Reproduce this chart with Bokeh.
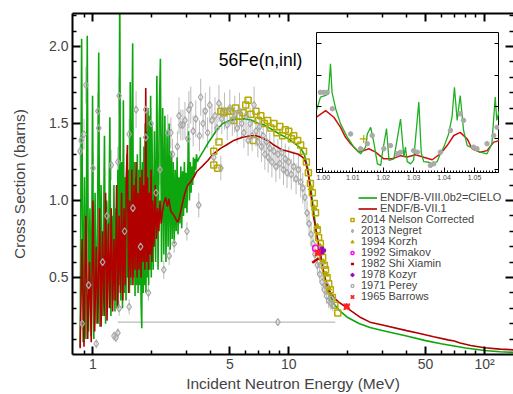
from bokeh.plotting import figure
from bokeh.models import (Range1d, LogAxis, LinearAxis, FixedTicker, Label, Legend, LegendItem,
                          CustomJSTickFormatter, SingleIntervalTicker, NumeralTickFormatter)
from bokeh.embed import file_html
from bokeh.resources import INLINE

FONT = "Liberation Sans"
GREEN = "#0EA60E"
RED = "#B00000"
GREY = "#A8A8A8"
OLIVE = "#B5AA00"

# ---------------- main panel data ----------------
x_major = [1, 5, 10, 50, 100]
x_minor = [0.9, 2, 3, 4, 6, 7, 8, 9, 20, 30, 40, 60, 70, 80, 90]
x_labels = {1: "1", 5: "5", 10: "10", 50: "50", 100: "10\u00b2"}
y_major = [0.5, 1.0, 1.5, 2.0]
y_minor = [0.1, 0.2, 0.3, 0.4, 0.6, 0.7, 0.8, 0.9, 1.1, 1.2, 1.3, 1.4, 1.6, 1.7, 1.8, 1.9, 2.1, 2.2]

# ENDF/B-VIII.0b2 = CIELO, resonance region
cielo_res_E = [0.860, 0.875, 0.890, 0.905, 0.920, 0.935, 0.950, 0.965, 0.980, 0.995,
               1.010, 1.025, 1.040, 1.055, 1.070, 1.085, 1.100, 1.115, 1.130, 1.145,
               1.160, 1.175, 1.190, 1.205, 1.220, 1.235, 1.250, 1.265, 1.280, 1.295,
               1.310, 1.325, 1.340, 1.355, 1.370, 1.385, 1.400, 1.415, 1.430, 1.445,
               1.460, 1.475, 1.490, 1.505, 1.520, 1.535, 1.550, 1.565, 1.580, 1.595,
               1.610, 1.625, 1.640, 1.655, 1.670, 1.685, 1.700, 1.715, 1.730, 1.745,
               1.760, 1.775, 1.790, 1.805, 1.820, 1.835, 1.850, 1.865, 1.880, 1.895,
               1.910, 1.925, 1.940, 1.955, 1.970, 1.985, 2.000,
               2.03, 2.06, 2.09, 2.12, 2.15, 2.18, 2.21, 2.24, 2.27, 2.30,
               2.33, 2.36, 2.39, 2.42, 2.45, 2.48, 2.51, 2.54, 2.57, 2.60,
               2.63, 2.66, 2.69, 2.72, 2.75, 2.78, 2.81, 2.84, 2.87, 2.90,
               2.93, 2.96, 2.99, 3.02, 3.05, 3.08, 3.11, 3.14, 3.17, 3.20,
               3.23, 3.26, 3.29, 3.32, 3.35, 3.38, 3.41]
cielo_res_xs = [0.05, 2.05, 0.08, 1.15, 0.10, 2.07, 0.15, 0.95, 0.12, 1.68,
                0.10, 1.05, 0.20, 0.85, 1.96, 0.18, 1.10, 0.25, 0.70, 1.42,
                0.20, 1.00, 0.30, 0.85, 1.54, 0.25, 0.90, 0.35, 1.10, 0.28,
                0.95, 0.30, 1.20, 0.45, 2.45, 0.35, 1.25, 0.30, 1.65, 0.40,
                1.15, 0.35, 1.30, 0.50, 1.20, 0.40, 1.77, 0.45, 1.35, 2.02,
                0.50, 1.25, 0.38, 1.15, 0.45, 1.30, 0.40, 1.20, 0.45, 1.41,
                0.35, 0.17, 1.25, 0.40, 1.35, 0.45, 1.50, 0.40, 1.45, 0.50,
                1.60, 0.45, 1.55, 0.55, 1.68, 0.50, 1.50,
                0.55, 1.45, 0.60, 1.81, 0.55, 1.55, 1.92, 0.60, 1.60, 0.65,
                1.55, 0.60, 1.45, 0.70, 1.50, 0.68, 1.32, 0.75, 1.25, 0.72,
                1.20, 0.80, 1.28, 0.78, 1.15, 0.85, 1.22, 0.82, 1.19, 0.90,
                1.25, 0.95, 1.18, 0.92, 1.20, 1.45, 1.00, 1.25, 1.05, 1.22,
                1.10, 1.28, 1.15, 1.27, 1.20, 1.30, 1.25]
# CIELO, smooth region
cielo_hi_E = [3.5, 3.7, 3.9, 4.1, 4.3, 4.6, 5.0, 5.5, 6.0, 6.5, 7.0, 7.5, 8.0, 9.0, 10.0,
              11.0, 11.5, 12.0, 12.5, 13.0, 13.5, 14.0, 14.5, 15.0, 16.0, 17.0, 18.0, 20.0,
              23.0, 26.0, 30.0, 40.0, 50.0, 60.0, 70.0, 80.0, 100.0, 120.0, 150.0]
cielo_hi_xs = [1.28, 1.33, 1.38, 1.42, 1.46, 1.50, 1.52, 1.53, 1.53, 1.52, 1.50, 1.49, 1.47,
               1.43, 1.40, 1.36, 1.34, 1.30, 1.21, 1.07, 0.90, 0.75, 0.63, 0.53, 0.41, 0.33,
               0.29, 0.24, 0.20, 0.175, 0.156, 0.12, 0.09, 0.07, 0.055, 0.042, 0.026, 0.018, 0.012]

# ENDF/B-VII.1
endf7_res_E = [0.86, 0.88, 0.90, 0.92, 0.94, 0.96, 0.98, 1.00, 1.02, 1.04,
               1.06, 1.08, 1.10, 1.12, 1.14, 1.16, 1.18, 1.20, 1.22, 1.24,
               1.26, 1.28, 1.30, 1.32, 1.34, 1.36, 1.38, 1.40, 1.42, 1.44,
               1.46, 1.48, 1.50, 1.52, 1.54, 1.56, 1.58, 1.60, 1.62, 1.64,
               1.66, 1.68, 1.70, 1.72, 1.74, 1.76, 1.78, 1.80, 1.82, 1.84,
               1.86, 1.88, 1.90, 1.92, 1.94, 1.96, 1.98, 2.00, 2.02, 2.05,
               2.08, 2.11, 2.14, 2.17, 2.20, 2.23, 2.26, 2.30, 2.35, 2.40, 2.44]
endf7_res_xs = [0.04, 0.75, 0.05, 0.90, 0.10, 0.60, 0.08, 1.00, 0.15, 0.70,
                0.20, 0.95, 0.18, 0.80, 0.25, 1.05, 0.22, 0.85, 0.30, 0.95,
                0.28, 0.75, 0.35, 1.10, 0.30, 0.90, 0.40, 1.05, 0.35, 0.95,
                0.45, 1.15, 1.36, 0.40, 1.00, 0.50, 1.20, 0.45, 1.10, 0.55,
                1.25, 0.50, 1.05, 0.55, 1.15, 0.50, 1.20, 0.60, 1.10, 0.55,
                1.73, 0.60, 1.15, 0.55, 1.05, 0.65, 1.20, 0.60, 1.00, 0.70,
                1.10, 0.75, 0.95, 0.80, 1.00, 0.85, 0.92, 0.98, 1.02, 0.96, 1.01]
endf7_hi_E = [2.50, 2.60, 2.70, 2.75, 2.85, 2.95, 3.05, 3.15, 3.27, 3.40,
              3.60, 3.86, 4.10, 4.50, 4.80, 5.24, 5.80, 6.40, 6.80, 7.20,
              7.80, 8.40, 9.20, 9.90, 10.5, 11.2, 11.8, 12.2, 12.6, 13.0,
              13.4, 14.0, 14.5, 15.0, 15.5, 16.0, 17.0, 18.0, 19.5, 19.8,
              20.0, 21.0, 23.3, 26.0, 30.5, 40.0, 45.5, 55.0, 65.0, 70.0,
              75.0, 85.0, 100.0, 120.0, 150.0]
endf7_hi_xs = [0.93, 0.90, 0.86, 0.88, 0.97, 1.05, 1.10, 1.12, 1.15, 1.19,
               1.22, 1.26, 1.30, 1.34, 1.36, 1.39, 1.41, 1.42, 1.42, 1.41,
               1.39, 1.36, 1.33, 1.32, 1.31, 1.30, 1.28, 1.25, 1.17, 1.03,
               0.89, 0.76, 0.66, 0.55, 0.47, 0.42, 0.37, 0.34, 0.31, 0.33,
               0.30, 0.28, 0.24, 0.21, 0.19, 0.155, 0.14, 0.115, 0.095, 0.088,
               0.075, 0.058, 0.044, 0.035, 0.028]

# 2013 Negret
negret_E = [0.86, 0.87, 0.88, 0.90, 0.92, 0.95, 1.00, 1.04, 1.06, 1.07,
            1.12, 1.18, 1.24, 1.28, 1.31, 1.34, 1.34, 1.36, 1.36, 1.45,
            1.53, 1.53, 1.60, 1.66, 1.75, 1.86, 1.86, 1.92, 1.98, 2.10,
            2.20, 2.30, 2.41, 2.45, 2.50, 2.55, 2.60, 2.70, 2.75, 2.81,
            2.88, 2.95, 3.02, 3.05, 3.09, 3.16, 3.25, 3.35, 3.47, 3.50,
            3.55, 3.65, 3.75, 3.85, 3.95, 4.05, 4.14, 4.20, 4.30, 4.40,
            4.50, 4.55, 4.70, 4.85, 5.00, 5.15, 5.30, 5.45, 5.60, 5.75,
            5.90, 6.05, 6.20, 6.35, 6.50, 6.65, 6.80, 6.95, 7.10, 7.25,
            7.40, 7.55, 7.70, 7.85, 8.00, 8.20, 8.40, 8.60, 8.80, 9.00,
            9.20, 9.40, 9.60, 9.80, 10.0, 10.3, 10.6, 10.9, 11.2, 11.5,
            11.8, 12.1, 12.4, 12.7, 13.0, 13.3, 13.6, 14.0, 14.4, 14.8,
            15.2, 15.6, 16.0, 16.4, 16.8]
negret_xs = [1.32, 1.39, 0.20, 1.43, 1.75, 0.45, 1.21, 0.07, 1.58, 1.47,
             0.60, 0.90, 1.23, 0.12, 0.11, 1.25, 0.14, 1.68, 0.30, 0.80,
             1.43, 0.31, 0.95, 1.59, 0.70, 1.59, 1.41, 0.40, 1.50, 1.05,
             1.20, 0.55, 1.44, 0.64, 1.44, 1.30, 0.72, 1.35, 1.55, 1.49,
             1.49, 1.52, 0.80, 1.40, 1.59, 1.62, 1.45, 1.53, 0.97, 1.42,
             1.67, 1.50, 1.58, 1.44, 1.62, 1.52, 1.28, 1.55, 1.47, 1.63,
             1.21, 1.53, 1.58, 1.49, 1.60, 1.52, 1.56, 1.47, 1.58, 1.50,
             1.44, 1.55, 1.39, 1.50, 1.42, 1.62, 1.45, 1.38, 1.48, 1.35,
             1.42, 1.30, 1.38, 1.28, 1.34, 1.25, 1.32, 1.22, 1.30, 1.24,
             1.31, 1.20, 1.27, 1.18, 1.25, 1.17, 1.22, 1.14, 1.20, 1.12,
             1.08, 1.02, 0.92, 0.85, 0.78, 0.72, 0.65, 0.58, 0.52, 0.47,
             0.42, 0.38, 0.35, 0.33, 0.32]
negret_err = [0.10, 0.10, 0.04, 0.10, 0.12, 0.05, 0.10, 0.03, 0.12, 0.10,
              0.06, 0.08, 0.10, 0.03, 0.03, 0.10, 0.03, 0.12, 0.05, 0.08,
              0.10, 0.05, 0.08, 0.12, 0.06, 0.12, 0.10, 0.05, 0.10, 0.08,
              0.10, 0.06, 0.12, 0.06, 0.10, 0.10, 0.06, 0.10, 0.12, 0.10,
              0.10, 0.12, 0.06, 0.10, 0.12, 0.12, 0.10, 0.12, 0.08, 0.10,
              0.12, 0.10, 0.12, 0.10, 0.12, 0.10, 0.08, 0.12, 0.10, 0.12,
              0.08, 0.10, 0.12, 0.10, 0.12, 0.10, 0.12, 0.10, 0.12, 0.10,
              0.10, 0.12, 0.10, 0.10, 0.10, 0.12, 0.10, 0.10, 0.10, 0.10,
              0.10, 0.10, 0.10, 0.10, 0.10, 0.10, 0.10, 0.10, 0.10, 0.10,
              0.10, 0.10, 0.10, 0.10, 0.10, 0.10, 0.10, 0.10, 0.10, 0.10,
              0.10, 0.08, 0.08, 0.08, 0.08, 0.06, 0.06, 0.06, 0.05, 0.05,
              0.05, 0.05, 0.05, 0.04, 0.04]
# one Negret point with a very wide energy bin
negret_wide_E = [8.8]
negret_wide_xs = [0.21]
negret_wide_lo = [1.34]
negret_wide_hi = [17.3]

# 2014 Nelson corrected
nelson_E = [4.14, 4.14, 4.34, 4.40, 4.50, 4.66, 4.88, 5.06, 5.24, 5.35,
            5.60, 5.85, 6.03, 6.20, 6.40, 6.60, 6.80, 7.00, 7.20, 7.50,
            7.80, 8.10, 8.40, 8.70, 9.00, 9.30, 9.60, 10.0, 10.3, 10.6,
            11.1, 11.5, 11.9, 12.3, 12.6, 12.9, 13.2, 13.5, 13.7, 14.0,
            14.2, 14.5, 14.7, 14.9, 15.2, 15.4, 15.7, 16.0, 16.3, 16.7,
            17.2, 17.8]
nelson_xs = [1.32, 1.23, 1.21, 1.38, 1.58, 1.57, 1.58, 1.58, 1.52, 1.60,
             1.55, 1.57, 1.62, 1.65, 1.56, 1.39, 1.58, 1.52, 1.55, 1.50,
             1.52, 1.47, 1.50, 1.44, 1.48, 1.42, 1.46, 1.45, 1.40, 1.42,
             1.39, 1.36, 1.32, 1.25, 1.18, 1.11, 1.05, 0.98, 0.92, 0.81,
             0.76, 0.72, 0.67, 0.63, 0.58, 0.55, 0.50, 0.46, 0.42, 0.37,
             0.32, 0.27]
korzh_E = [13.0, 13.5, 14.0, 14.5, 15.0, 15.5, 16.0]
korzh_xs = [1.08, 0.95, 0.83, 0.70, 0.60, 0.52, 0.43]
simakov_E = [13.7]
simakov_xs = [0.69]
shi_E = [13.7]
shi_xs = [0.61]
kozyr_E = [14.8]
kozyr_xs = [0.675]
perey_E = [14.6, 15.5, 16.5]
perey_xs = [0.58, 0.45, 0.36]
barrows_E = [14.1, 19.8]
barrows_xs = [0.66, 0.31]

# ---------------- inset data ----------------
inset_cielo_E = [0.9981, 0.9994, 1.0011, 1.0020, 1.0027, 1.0032, 1.0044, 1.0060, 1.0082, 1.0104,
                 1.0126, 1.0142, 1.0148, 1.0159, 1.0170, 1.0181, 1.0192, 1.0197, 1.0211, 1.0219,
                 1.0235, 1.0257, 1.0268, 1.0273, 1.0279, 1.0290, 1.0300, 1.0317, 1.0325, 1.0333,
                 1.0350, 1.0361, 1.0377, 1.0388, 1.0399, 1.0415, 1.0426, 1.0434, 1.0443, 1.0453,
                 1.0464, 1.0476, 1.0487, 1.0498, 1.0519, 1.0541, 1.0557, 1.0568, 1.0573, 1.0582]
inset_cielo_xs = [0.287, 0.330, 0.335, 0.340, 0.436, 0.345, 0.293, 0.245, 0.203, 0.171,
                  0.150, 0.171, 0.213, 0.234, 0.182, 0.118, 0.113, 0.150, 0.230, 0.129,
                  0.134, 0.260, 0.139, 0.171, 0.125, 0.118, 0.130, 0.314, 0.153, 0.125,
                  0.123, 0.118, 0.125, 0.150, 0.171, 0.213, 0.266, 0.361, 0.256, 0.335,
                  0.224, 0.176, 0.171, 0.166, 0.155, 0.150, 0.182, 0.330, 0.256, 0.290]
inset_endf7_E = [0.9981, 1.0011, 1.0038, 1.0060, 1.0076, 1.0093, 1.0120, 1.0136, 1.0153, 1.0175,
                 1.0202, 1.0230, 1.0257, 1.0279, 1.0306, 1.0333, 1.0361, 1.0388, 1.0410, 1.0432,
                 1.0453, 1.0476, 1.0492, 1.0519, 1.0541, 1.0563, 1.0582]
inset_endf7_xs = [0.266, 0.287, 0.266, 0.234, 0.203, 0.182, 0.155, 0.160, 0.166, 0.155,
                  0.134, 0.134, 0.144, 0.140, 0.147, 0.139, 0.131, 0.150, 0.176, 0.208,
                  0.218, 0.197, 0.166, 0.155, 0.160, 0.187, 0.192]
inset_data_E = [0.9994, 1.0005, 1.0016, 1.0033, 1.0093, 1.0126, 1.0148, 1.0164, 1.0202, 1.0224,
                1.0246, 1.0257, 1.0300, 1.0312, 1.0355, 1.0366, 1.0388, 1.0421, 1.0453, 1.0464,
                1.0497, 1.0508, 1.0541, 1.0563, 1.0574]
inset_data_xs = [0.345, 0.345, 0.345, 0.293, 0.213, 0.166, 0.182, 0.208, 0.166, 0.176,
                 0.150, 0.155, 0.160, 0.155, 0.113, 0.118, 0.155, 0.224, 0.277, 0.256,
                 0.171, 0.166, 0.182, 0.208, 0.234]
inset_plus_E = [1.0136]
inset_plus_xs = [0.197]

# ---------------- main figure ----------------
p = figure(width=513, height=394, x_axis_type="log",
           x_range=Range1d(0.786, 140.6), y_range=Range1d(0, 2.214),
           output_backend="svg", toolbar_location=None,
           min_border_left=72, min_border_right=0, min_border_top=13, min_border_bottom=39,
           x_axis_label="Incident Neutron Energy (MeV)", y_axis_label="Cross Section (barns)")
p.grid.visible = False
p.outline_line_color = None
p.border_fill_color = "white"
p.background_fill_color = "white"

empty = CustomJSTickFormatter(code="return ''")


def style_axis(ax):
    ax.axis_line_width = 2
    ax.major_tick_in = 8
    ax.major_tick_out = 0
    ax.minor_tick_in = 4
    ax.minor_tick_out = 0
    ax.major_tick_line_width = 2
    ax.minor_tick_line_width = 1.5
    ax.major_label_text_font = FONT
    ax.major_label_text_font_size = "14px"
    ax.axis_label_text_font = FONT
    ax.axis_label_text_font_size = "15.5px"
    ax.axis_label_text_font_style = "normal"


xt = FixedTicker(ticks=x_major, minor_ticks=x_minor)
yt = FixedTicker(ticks=y_major, minor_ticks=y_minor)
p.xaxis.ticker = xt
p.xaxis.major_label_overrides = x_labels
p.yaxis.ticker = yt
p.yaxis.formatter = NumeralTickFormatter(format="0.0")
style_axis(p.xaxis[0])
style_axis(p.yaxis[0])
p.xaxis.major_label_standoff = 1
p.xaxis.axis_label_standoff = 0
p.yaxis.major_label_standoff = 4
p.yaxis.axis_label_standoff = 18

top_ax = LogAxis(ticker=xt, formatter=empty, major_label_standoff=0)
right_ax = LinearAxis(ticker=yt, formatter=empty, major_label_standoff=0)
style_axis(top_ax)
style_axis(right_ax)
right_ax.axis_line_color = None
p.add_layout(top_ax, "above")
p.add_layout(right_ax, "right")

# Negret error bars and wide-bin point
p.segment(x0=negret_E, y0=[v - e for v, e in zip(negret_xs, negret_err)],
          x1=negret_E, y1=[v + e for v, e in zip(negret_xs, negret_err)],
          line_color="#BBBBBB", line_width=1)
p.segment(x0=negret_wide_lo, y0=negret_wide_xs, x1=negret_wide_hi, y1=negret_wide_xs,
          line_color=GREY, line_width=1)

# evaluations
g = p.line(cielo_res_E + cielo_hi_E, cielo_res_xs + cielo_hi_xs, line_color=GREEN, line_width=1.6)
r = p.line(endf7_res_E + endf7_hi_E, endf7_res_xs + endf7_hi_xs, line_color=RED, line_width=1.6)

# experiments
r_nel = p.scatter(nelson_E, nelson_xs, marker="square", size=6, fill_color=None,
                  line_color=OLIVE, line_width=1.5)
r_neg = p.scatter(negret_E + negret_wide_E, negret_xs + negret_wide_xs, marker="diamond", size=7,
                  fill_color=None, line_color=GREY, line_width=1.2)
r_kor = p.scatter(korzh_E, korzh_xs, marker="triangle", size=6, fill_color=OLIVE, line_color=OLIVE)
r_sim = p.scatter(simakov_E, simakov_xs, marker="circle", size=6, fill_color=None,
                  line_color="#FF00FF", line_width=1.5)
r_shi = p.scatter(shi_E, shi_xs, marker="dash", size=8, angle=0.6, line_color="#C00000",
                  line_width=2.5)
r_koz = p.scatter(kozyr_E, kozyr_xs, marker="plus", size=7, fill_color="#9900CC", line_color="#9900CC")
r_per = p.scatter(perey_E, perey_xs, marker="hex", size=6, fill_color=None, line_color=GREY,
                  line_width=1.2)
r_bar = p.scatter(barrows_E, barrows_xs, marker="square_pin", size=6, fill_color="#FF2020",
                  line_color="#FF2020")

p.add_layout(Label(x=4.39, y=1.91, text="56Fe(n,inl)", text_font=FONT, text_font_size="17.5px",
                   text_baseline="alphabetic", text_color="black"))

# legend: one row per entry so the row pitch matches the reference
legend_rows = [("ENDF/B-VIII.0b2=CIELO", g, 198), ("ENDF/B-VII.1", r, 209),
               ("2014 Nelson Corrected", r_nel, 220), ("2013 Negret", r_neg, 231),
               ("1994 Korzh", r_kor, 242), ("1992 Simakov", r_sim, 253),
               ("1982 Shi Xiamin", r_shi, 264), ("1978 Kozyr", r_koz, 275),
               ("1971 Perey", r_per, 286), ("1965 Barrows", r_bar, 297)]
ROW_H = 12.3
FRAME_BOTTOM = 355
for i, (lab, rend, yc) in enumerate(legend_rows):
    is_line = i < 2
    leg = Legend(items=[LegendItem(label=lab, renderers=[rend])],
                 location=(286 if is_line else 276, FRAME_BOTTOM - yc - ROW_H / 2),
                 glyph_width=19 if is_line else 8, label_standoff=3 if is_line else 5,
                 padding=0, margin=0, border_line_color=None, background_fill_alpha=0,
                 label_text_font=FONT, label_text_font_size="11px", label_height=11,
                 glyph_height=11, spacing=0)
    p.add_layout(leg)

# ---------------- inset ----------------
p2 = figure(frame_width=183, frame_height=140,
            x_range=Range1d(0.9981, 1.0582), y_range=Range1d(0.0905, 0.535),
            output_backend="svg", toolbar_location=None,
            min_border_left=0, min_border_right=0, min_border_top=0, min_border_bottom=0)
p2.grid.visible = False
p2.background_fill_color = "white"
p2.border_fill_alpha = 0
p2.outline_line_color = "black"
p2.outline_line_width = 1


def style_inset(ax):
    ax.axis_line_color = None
    ax.major_tick_in = 5
    ax.major_tick_out = 0
    ax.minor_tick_in = 2
    ax.minor_tick_out = 0
    ax.major_tick_line_width = 1
    ax.minor_tick_line_width = 1
    ax.major_label_text_font = FONT
    ax.major_label_text_font_size = "7px"


ixt = SingleIntervalTicker(interval=0.01, num_minor_ticks=10)
iyt = SingleIntervalTicker(interval=0.1, num_minor_ticks=0)
p2.xaxis.ticker = ixt
p2.xaxis.formatter = NumeralTickFormatter(format="0.00")
p2.xaxis.major_label_standoff = 2
p2.yaxis.ticker = iyt
p2.yaxis.formatter = empty
p2.yaxis.major_label_standoff = 0
style_inset(p2.xaxis[0])
style_inset(p2.yaxis[0])
i_right = LinearAxis(ticker=iyt, formatter=empty, major_label_standoff=0)
style_inset(i_right)
p2.add_layout(i_right, "right")

p2.line(inset_endf7_E, inset_endf7_xs, line_color="#D01010", line_width=1.5)
p2.line(inset_cielo_E, inset_cielo_xs, line_color="#20B020", line_width=1.3)
p2.scatter(inset_data_E, inset_data_xs, marker="circle", size=4.5, fill_color="#AAAAAA",
           line_color="#AAAAAA")
p2.scatter(inset_plus_E, inset_plus_xs, marker="cross", size=8, line_color=OLIVE, line_width=1.2)

p2.styles = {"position": "absolute", "left": "316px", "top": "32px"}

open("out.html", "w").write(file_html([p, p2], INLINE))
